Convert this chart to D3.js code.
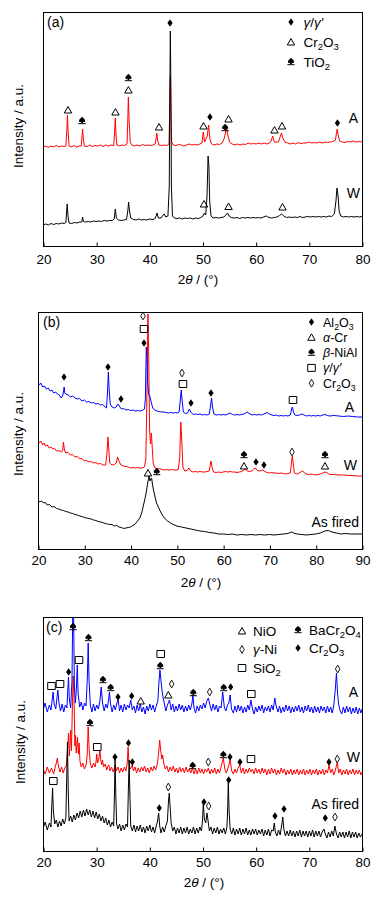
<!DOCTYPE html>
<html><head><meta charset="utf-8">
<script src="https://cdn.jsdelivr.net/npm/d3@7"></script>
<style>
body{margin:0;background:#fff}
svg{display:block}
text{font-family:"Liberation Sans",Arial,sans-serif;fill:#000}
</style>
</head><body>
<svg id="chart" width="386" height="898"></svg>
<script>
// ---------------- DATA ----------------
const ticksA = [20,30,40,50,60,70,80];
const ticksB = [20,30,40,50,60,70,80,90];
const ticksC = [20,30,40,50,60,70,80];

// panel (a) : 2theta, intensity (a.u.)
const aRedA = [[20,99],[20.5,100],[21,98.5],[21.5,100],[22,99],[22.5,100.5],[23,99],[23.5,100],[24,99.5],[24.3,100],[24.5,118],[24.6,131],[24.75,112],[24.9,100],[25.3,99],[25.8,100.5],[26.3,99],[26.8,100],[27.2,100],[27.35,110],[27.45,117],[27.6,106],[27.8,100],[28.3,99.5],[28.8,101],[29.3,99.5],[29.8,100.5],[30.3,100],[30.8,101],[31.3,99.5],[31.8,101],[32.3,100],[32.8,101],[33.3,100.5],[33.45,112],[33.6,128],[33.75,110],[33.9,101],[34.4,100],[34.9,101],[35.4,100.5],[35.8,102],[35.95,125],[36.05,149],[36.2,126],[36.4,104],[36.7,101],[37.2,100],[37.7,101],[38.2,100],[38.7,101.5],[39.2,100.5],[39.7,101],[40.2,100.5],[40.7,101],[41.1,102],[41.3,108],[41.4,113],[41.55,106],[41.8,101],[42.3,100.5],[42.8,101],[43.3,100.5],[43.7,102],[43.85,140],[43.95,170],[44.05,140],[44.2,104],[44.5,101],[45,100.5],[45.5,101.5],[46,101],[46.5,100],[47,101],[47.5,102],[48,101],[48.5,101.5],[49,101],[49.5,102],[49.9,103],[50.15,114],[50.4,104],[50.9,110],[51.15,121],[51.4,107],[51.7,102],[52.2,101],[52.7,102],[53.2,101.5],[53.7,103],[54.1,108],[54.4,115],[54.55,117],[54.8,110],[55.1,104],[55.6,102],[56.1,101],[56.6,102],[57.1,101],[57.6,102],[58.1,101.5],[58.6,103],[59.1,102],[59.6,102.5],[60.1,102],[60.6,103],[61.1,102],[61.6,103],[62.1,102],[62.6,103],[62.9,105],[63.2,110],[63.5,104],[64.3,104],[64.6,109],[64.85,113],[65.1,108],[65.5,104],[66,103],[66.5,102],[67,103],[67.5,102],[68,103.5],[68.5,102.5],[69,103],[69.5,103],[70,104],[70.5,103],[71,103.5],[71.5,103],[72,104],[72.5,103],[73,104],[73.5,103.5],[74,104],[74.5,104.5],[75,106],[75.2,113],[75.35,117],[75.55,110],[75.8,105],[76.3,104],[76.8,103.5],[77.3,104.5],[77.8,104],[78.3,105],[78.8,104],[79.3,104.5],[79.8,104],[80,104.5]];
const aBlackW = [[20,21],[20.5,22],[21,21],[21.5,22.5],[22,21.5],[22.5,22.5],[23,22],[23.5,23],[24,22.5],[24.3,23.5],[24.45,35],[24.55,42],[24.7,30],[24.9,23],[25.4,22.5],[25.9,23.5],[26.4,23],[26.9,24],[27.3,24],[27.45,29],[27.6,24.5],[28,24],[28.5,24.5],[29,24],[29.5,25],[30,24.5],[30.5,25],[31,24.5],[31.5,25.5],[32,25],[32.5,25.5],[33,25.5],[33.4,27],[33.6,37],[33.8,28],[34.2,26],[34.7,25.5],[35.2,26],[35.7,26.5],[35.95,35],[36.1,44],[36.25,36],[36.5,28],[37,26.5],[37.5,26],[38,27],[38.5,26],[39,26.5],[39.5,26],[40,27],[40.5,26.5],[41,27],[41.3,30],[41.45,33],[41.7,28],[42.2,28],[42.6,31],[42.8,32],[43.1,29],[43.5,30],[43.75,60],[43.85,150],[43.95,215],[44.05,160],[44.15,60],[44.35,30],[44.7,28],[45.2,27.5],[45.7,28],[46.2,27],[46.7,28],[47.2,27.5],[47.7,28],[48.2,27],[48.7,28],[49.2,27.5],[49.7,28.5],[50.1,30],[50.35,33],[50.6,31],[50.85,50],[51.05,90],[51.2,80],[51.35,45],[51.6,30],[52,28],[52.5,28.5],[53,28],[53.5,28.5],[54,29],[54.4,31],[54.7,33],[55,30],[55.4,28.5],[56,28],[56.5,28.5],[57,27.5],[57.5,28.5],[58,28],[58.5,28.5],[59,28],[59.5,28.5],[60,28],[60.5,28.5],[61,28],[61.5,29],[62,30],[62.5,28.5],[63,28],[63.5,28.5],[64,29],[64.5,30.5],[64.9,32],[65.3,30],[65.8,28.5],[66.3,29],[66.8,28.5],[67.3,29],[67.8,28.5],[68.3,29.5],[68.8,28.5],[69.3,29],[69.8,29.5],[70.3,29],[70.8,29.5],[71.3,29],[71.8,29.5],[72.3,29],[72.8,29.5],[73.3,29],[73.8,30],[74.3,29.5],[74.8,32],[75.1,45],[75.3,58],[75.5,50],[75.7,35],[76,30],[76.5,29],[77,29.5],[77.5,29],[78,29.5],[78.5,29],[79,29.5],[79.5,29],[80,29.5]];

// panel (b)
const bBlueA = [[20,167],[20.3,164],[20.6,166],[21,162],[21.4,163],[21.8,160],[22.2,161],[22.6,158],[23,159],[23.4,156],[23.8,157],[24.2,155],[24.6,154],[25,151],[25.3,153],[25.5,157],[25.65,162],[25.8,156],[26,155],[26.5,154],[27,152],[27.5,153],[28,151],[28.5,150],[29,150.5],[29.5,148],[30,149],[30.5,147],[31,147.5],[31.5,146],[32,146.5],[32.5,145],[33,145.5],[33.5,144],[34,144.5],[34.5,142],[34.8,141],[35,155],[35.2,177],[35.4,158],[35.6,145],[36,142],[36.5,141],[36.9,142],[37.3,145],[37.7,142],[38,140],[38.5,140.5],[39,139],[39.5,139.5],[40,138.5],[40.5,139],[41,138],[41.5,138.5],[42,138],[42.5,138.5],[43,140],[43.2,150],[43.4,202],[43.55,190],[43.7,165],[43.9,155],[44.2,152],[44.5,146],[44.8,141],[45.2,139],[45.7,138],[46.2,137.5],[46.7,137],[47.2,137],[47.7,136.5],[48.2,136],[48.7,136.5],[49.2,136],[49.7,136.5],[50.2,136],[50.5,137],[50.8,152],[50.95,159],[51.15,148],[51.4,137],[51.8,135.5],[52.3,136],[52.7,140],[53,137],[53.5,134.5],[54,135],[54.5,134.5],[55,135],[55.5,134],[56,134.5],[56.5,134],[57,135],[57.3,144],[57.5,151],[57.7,142],[58,135],[58.5,134],[59,134.5],[59.5,134],[60,134.5],[60.5,134],[61,135],[61.5,136],[62,134.5],[62.5,134],[63,134.5],[63.5,134],[64,134.5],[64.5,135],[65.2,137],[65.8,135],[66.3,134],[66.8,134.5],[67.3,134],[67.8,134.5],[68.3,134],[68.8,135],[69.5,136.5],[70,135],[70.5,134],[71,133.5],[71.5,134],[72,133],[72.5,133.5],[73,133],[73.5,133.5],[74,133],[74.5,134],[74.8,140],[74.95,142],[75.2,137],[75.5,134],[76,133.5],[76.5,134],[77,135],[77.5,134],[78,133],[78.5,133.5],[79,133],[79.5,133.5],[80,133],[80.5,133.5],[81,133],[81.5,134],[82,134.5],[82.5,133.5],[83,133],[84,133.5],[85,133],[86,132.5],[87,133],[88,132.5],[89,132],[90,132]];
const bRedW = [[20,109],[20.3,106],[20.6,108],[21,104],[21.3,106],[21.6,103],[22,104],[22.4,101],[22.8,102],[23.2,100],[23.6,100.5],[24,98],[24.5,98.5],[25,97],[25.3,98],[25.5,107],[25.7,99],[26,96],[26.5,96.5],[27,94],[27.5,94.5],[28,92],[28.5,92.5],[29,90],[29.5,90.5],[30,88],[30.5,88.5],[31,87],[31.5,87.5],[32,86],[32.5,86.5],[33,85],[33.5,85.5],[34,84],[34.6,84],[34.9,95],[35.1,112],[35.3,100],[35.5,86],[36,84],[36.5,84.5],[36.9,86],[37.2,92],[37.5,88],[37.9,84],[38.5,83],[39,82.5],[39.5,82],[40,81],[40.5,81.5],[41,81],[41.5,81.5],[42,81],[42.5,81],[43,82],[43.3,90],[43.55,160],[43.75,235],[43.9,200],[44.1,120],[44.3,105],[44.5,116],[44.7,100],[44.9,85],[45.3,81],[45.8,80],[46.3,80.5],[46.8,79.5],[47.3,79],[47.8,79.5],[48.3,79],[48.8,79.5],[49.3,79],[49.8,79],[50.3,79.5],[50.6,90],[50.85,127],[51.05,110],[51.3,82],[51.7,78],[52.2,78.5],[52.6,81],[53,78],[53.5,77],[54,77.5],[54.5,77],[55,77.5],[55.5,77],[56,77],[56.5,77.5],[57,78],[57.25,85],[57.4,88],[57.6,82],[57.9,77],[58.5,76.5],[59,77],[59.5,76.5],[60,77],[60.5,77.5],[61,77],[61.5,77.5],[62,77],[62.5,77],[63,76.5],[63.5,77],[64,77.5],[64.5,79],[64.8,80],[65.2,78],[65.7,77.5],[66.2,78],[66.6,80],[66.9,81],[67.3,79],[67.8,78],[68.3,78.5],[68.6,79],[69,77.5],[69.5,76.5],[70,76],[70.5,76.5],[71,76],[71.5,76],[72,75.5],[72.5,76],[73,75.5],[73.5,75],[74,75.5],[74.5,76],[74.75,86],[74.95,93],[75.15,85],[75.4,76],[75.8,75],[76.3,75.5],[76.8,77],[77.2,78],[77.6,76],[78,75],[78.5,74.5],[79,75],[79.5,74.5],[80,74],[80.5,74.5],[81,75],[81.5,76],[82,77],[82.5,76],[83,74.5],[84,74.5],[85,74],[86,74],[87,73.5],[88,73.5],[89,73],[90,73]];
const bBlackAsFired = [[20,49],[20.4,47],[20.8,48],[21.2,46],[21.6,46.5],[22,44],[22.5,44.5],[23,42],[23.5,42.5],[24,40.5],[24.5,40],[25,39],[25.5,38.5],[26,37.5],[26.5,37],[27,36],[27.5,35.5],[28,34.5],[28.5,34],[29,33],[29.5,32.5],[30,31.5],[30.5,31],[31,30.5],[31.5,30],[32,29],[32.5,28.5],[33,27.5],[33.5,27],[34,26.5],[34.5,25.5],[35,25],[35.5,24.5],[36,24.5],[36.5,23],[37,23.5],[37.5,22],[38,21.5],[38.5,20.5],[39,21],[39.5,21.5],[40,22],[40.5,23.5],[41,25],[41.5,28],[42,31],[42.4,36],[42.8,44],[43.1,50],[43.4,57],[43.7,66],[44,73],[44.2,68],[44.35,70],[44.55,71],[44.75,64],[45,58],[45.3,52],[45.6,46],[46,42],[46.5,37],[47,33],[47.5,30],[48,28],[48.5,26.5],[49,25],[50,23],[51,22],[52,21],[53,20],[54,19],[55,18],[56,17.5],[57,16.5],[58,16],[59,15],[60,15],[61,14.5],[62,15],[63,14],[64,14.5],[65,14],[66,14.5],[67,14],[68,14.5],[69,14],[70,14.5],[71,14],[72,14.5],[73,15],[74,15.5],[74.8,17],[75.5,15.5],[76,15],[77,14.5],[78,14],[79,14.5],[80,15],[81,16],[82,18],[82.7,18.5],[83.5,17],[84.5,16],[85.5,15],[86.5,15.5],[87.5,15],[88.5,15],[90,15]];

// panel (c)
const cBlueA = [[20,140],[20.4,148],[20.8,139],[21.2,146],[21.5,141],[21.7,150],[21.9,159],[22.1,147],[22.4,142],[22.6,152],[22.8,161],[23,148],[23.3,140],[23.6,147],[23.9,139],[24.2,146],[24.5,143],[24.65,160],[24.8,174],[24.95,152],[25.2,143],[25.45,170],[25.6,240],[25.75,240],[25.9,165],[26.1,148],[26.3,165],[26.45,186],[26.6,158],[26.9,144],[27.2,149],[27.5,141],[27.8,148],[28.1,145],[28.35,175],[28.5,208],[28.65,172],[28.9,146],[29.2,139],[29.5,147],[29.8,140],[30.1,146],[30.4,142],[30.7,150],[30.95,164],[31.2,148],[31.5,140],[31.8,147],[32.1,143],[32.35,152],[32.5,159],[32.7,147],[33,139],[33.3,146],[33.6,141],[33.9,148],[34.15,151],[34.4,140],[34.7,146],[35,139],[35.3,147],[35.6,141],[35.9,146],[36.2,143],[36.5,151],[36.8,141],[37.1,145],[37.4,138],[37.7,146],[38,140],[38.3,147],[38.6,139],[38.9,144],[39.2,137],[39.5,145],[39.8,140],[40.1,147],[40.4,141],[40.7,146],[41,139],[41.3,145],[41.6,150],[41.8,168],[42,181],[42.2,170],[42.4,160],[42.6,153],[42.8,148],[43.1,140],[43.4,146],[43.8,151],[44.1,141],[44.4,147],[44.7,139],[45,145],[45.3,140],[45.6,147],[45.9,141],[46.2,146],[46.5,139],[46.8,145],[47.1,140],[47.4,146],[47.7,141],[48,147],[48.2,156],[48.4,143],[48.7,138],[49,145],[49.3,140],[49.6,146],[49.9,142],[50.2,148],[50.5,143],[50.8,150],[51.1,153],[51.4,146],[51.7,140],[52,147],[52.3,141],[52.6,146],[52.9,139],[53.2,145],[53.5,143],[53.8,159],[54.1,144],[54.4,140],[54.7,146],[54.95,148],[55.2,156],[55.45,142],[55.8,138],[56.1,145],[56.4,139],[56.7,146],[57,140],[57.3,145],[57.6,138],[57.9,144],[58.2,139],[58.5,146],[58.8,141],[59.1,151],[59.4,142],[59.7,137],[60,144],[60.3,139],[60.6,145],[60.9,140],[61.2,146],[61.5,138],[61.8,144],[62.1,140],[62.4,145],[62.7,139],[63,146],[63.3,141],[63.6,153],[63.9,144],[64.2,139],[64.5,145],[64.8,138],[65.1,144],[65.4,139],[65.7,146],[66,140],[66.3,145],[66.6,138],[66.9,144],[67.2,139],[67.5,145],[67.8,140],[68.1,146],[68.4,139],[68.7,144],[69,138],[69.3,145],[69.6,140],[69.9,146],[70.2,139],[70.5,144],[70.8,138],[71.1,145],[71.4,139],[71.7,144],[72,138],[72.3,145],[72.6,140],[72.9,144],[73.2,138],[73.5,145],[73.8,139],[74.1,144],[74.4,138],[74.7,146],[74.95,160],[75.2,178],[75.4,158],[75.6,147],[75.9,140],[76.2,137],[76.5,144],[76.8,138],[77.1,145],[77.4,139],[77.7,144],[78,137],[78.3,143],[78.6,138],[78.9,144],[79.2,137],[79.5,143],[79.8,138],[80,142]];
const cRedW = [[20,82],[20.4,77],[20.8,84],[21.2,78],[21.6,83],[22,77],[22.3,84],[22.5,88],[22.7,93],[22.9,85],[23.2,79],[23.5,84],[23.8,78],[24.1,83],[24.4,86],[24.6,100],[24.8,118],[24.95,95],[25.1,110],[25.2,121],[25.35,100],[25.55,150],[25.68,175],[25.85,150],[26,105],[26.1,116],[26.25,98],[26.4,108],[26.5,114],[26.65,97],[26.8,108],[26.95,90],[27.2,84],[27.5,88],[27.8,82],[28.1,86],[28.3,95],[28.5,124],[28.7,100],[28.9,87],[29.2,83],[29.5,88],[29.8,84],[30,90],[30.1,97],[30.25,88],[30.5,92],[30.7,101],[30.9,90],[31.05,86],[31.2,91],[31.4,84],[31.7,87],[32,81],[32.2,85],[32.4,86],[32.6,80],[32.9,84],[33.2,79],[33.45,83],[33.6,86],[33.8,80],[34.1,84],[34.4,78],[34.7,83],[35,79],[35.3,84],[35.6,80],[35.85,88],[36,104],[36.15,90],[36.4,82],[36.65,84],[36.8,86],[37,80],[37.3,84],[37.6,78],[37.9,83],[38.2,79],[38.5,84],[38.8,80],[39.1,85],[39.4,79],[39.7,83],[40,78],[40.3,84],[40.6,80],[40.9,85],[41.2,81],[41.5,87],[41.75,98],[41.95,111],[42.15,100],[42.35,92],[42.5,96],[42.7,88],[43,82],[43.3,85],[43.6,79],[43.9,84],[44.2,80],[44.5,85],[44.8,79],[45.1,83],[45.4,78],[45.7,84],[46,79],[46.3,83],[46.6,78],[46.9,84],[47.2,79],[47.5,82],[47.8,78],[48.1,83],[48.4,77],[48.7,82],[49,77],[49.3,83],[49.6,78],[49.9,82],[50.2,77],[50.5,82],[50.8,79],[51.1,83],[51.4,77],[51.7,82],[52,78],[52.3,83],[52.6,77],[52.9,82],[53.2,78],[53.5,84],[53.9,93],[54.2,82],[54.5,78],[54.8,83],[55.2,91],[55.5,80],[55.8,77],[56.1,82],[56.4,78],[56.7,83],[57,86],[57.3,78],[57.6,83],[57.9,77],[58.2,82],[58.5,78],[58.8,83],[59.1,79],[59.4,82],[59.7,77],[60,83],[60.3,78],[60.6,82],[60.9,77],[61.2,83],[61.5,78],[61.8,82],[62.1,76],[62.4,82],[62.7,77],[63,83],[63.3,78],[63.6,82],[63.9,76],[64.2,81],[64.5,77],[64.8,83],[65.1,78],[65.4,82],[65.7,76],[66,81],[66.3,77],[66.6,82],[66.9,76],[67.2,81],[67.5,77],[67.8,82],[68.1,76],[68.4,81],[68.7,77],[69,82],[69.3,76],[69.6,81],[69.9,77],[70.2,82],[70.5,76],[70.8,81],[71.1,77],[71.4,82],[71.7,76],[72,81],[72.3,77],[72.6,82],[72.9,76],[73.2,81],[73.5,78],[73.8,86],[74.1,78],[74.4,82],[74.7,76],[75,81],[75.35,89],[75.6,78],[75.9,82],[76.2,76],[76.5,81],[76.8,77],[77.1,82],[77.4,76],[77.7,81],[78,77],[78.3,82],[78.6,76],[78.9,81],[79.2,77],[79.5,81],[79.8,76],[80,79]];
const cBlackAsFired = [[20,22],[20.4,29],[20.8,21],[21.2,28],[21.5,24],[21.65,45],[21.8,63],[21.95,40],[22.2,27],[22.5,31],[22.8,24],[23.1,30],[23.4,25],[23.7,32],[24,27],[24.3,33],[24.45,70],[24.6,109],[24.75,60],[24.9,30],[25.2,35],[25.5,29],[25.8,36],[26.1,31],[26.4,38],[26.7,33],[27,40],[27.3,34],[27.6,41],[27.9,35],[28.2,42],[28.5,36],[28.8,41],[29.1,34],[29.4,40],[29.7,33],[30,39],[30.3,32],[30.6,37],[30.9,30],[31.2,35],[31.5,28],[31.8,33],[32.1,26],[32.4,31],[32.7,24],[33,29],[33.3,25],[33.45,60],[33.55,93],[33.7,55],[33.85,27],[34.1,22],[34.4,27],[34.7,20],[35,26],[35.3,21],[35.6,27],[35.9,24],[36.05,60],[36.2,91],[36.35,55],[36.5,25],[36.8,20],[37.1,26],[37.4,19],[37.7,25],[38,20],[38.3,26],[38.6,19],[38.9,24],[39.2,18],[39.5,25],[39.8,20],[40.1,26],[40.4,19],[40.7,24],[41,18],[41.3,25],[41.55,30],[41.75,38],[41.95,25],[42.2,18],[42.5,24],[42.8,19],[43.1,25],[43.4,30],[43.6,50],[43.75,58],[43.9,45],[44.1,28],[44.4,20],[44.7,24],[45,17],[45.3,23],[45.6,18],[45.9,24],[46.2,17],[46.5,23],[46.8,18],[47.1,24],[47.4,17],[47.7,22],[48,18],[48.3,24],[48.6,17],[48.9,23],[49.2,18],[49.5,24],[49.8,20],[50,30],[50.15,48],[50.35,32],[50.6,28],[50.85,38],[51.05,30],[51.3,20],[51.6,24],[51.9,17],[52.2,23],[52.5,18],[52.8,24],[53.1,17],[53.4,22],[53.7,18],[54,23],[54.3,17],[54.6,24],[54.75,45],[54.85,69],[55,40],[55.2,22],[55.5,17],[55.8,23],[56.1,16],[56.4,22],[56.7,17],[57,23],[57.3,16],[57.6,22],[57.9,17],[58.2,23],[58.5,16],[58.8,21],[59.1,16],[59.4,22],[59.7,17],[60,22],[60.3,16],[60.6,21],[60.9,17],[61.2,22],[61.5,15],[61.8,21],[62.1,16],[62.4,22],[62.7,15],[63,21],[63.3,20],[63.5,28],[63.7,19],[64,15],[64.3,21],[64.6,16],[64.9,26],[65.1,34],[65.3,22],[65.6,15],[65.9,20],[66.2,15],[66.5,21],[66.8,15],[67.1,20],[67.4,14],[67.7,20],[68,15],[68.3,21],[68.6,14],[68.9,20],[69.2,15],[69.5,20],[69.8,14],[70.1,20],[70.4,15],[70.7,21],[71,14],[71.3,20],[71.6,15],[71.9,20],[72.2,14],[72.5,19],[72.85,22],[73.1,17],[73.4,13],[73.7,19],[74,14],[74.3,20],[74.6,15],[74.9,25],[75.2,17],[75.5,13],[75.8,19],[76.1,14],[76.4,19],[76.7,13],[77,19],[77.3,14],[77.6,20],[77.9,13],[78.2,19],[78.5,14],[78.8,19],[79.1,13],[79.4,18],[79.7,14],[80,17]];

// phase markers: [2theta, intensity, symbol]
const aMarks = [[24.7,136,"tri"],[27.35,125,"spade"],[33.63,134,"tri"],[36.07,168,"spade"],[36.07,156,"tri"],[41.82,119,"tri"],[43.89,223,"dia"],[50.19,120,"tri"],[51.4,129,"dia"],[54.25,118,"spade"],[54.9,127,"tri"],[63.54,116,"tri"],[64.95,120,"tri"],[75.39,123,"dia"],
  [50.28,42,"tri"],[54.9,39.5,"tri"],[65.05,39,"tri"]];
const bMarks = [[25.62,172,"dia"],[35.12,182,"dia"],[37.93,150,"dia"],[42.9,206,"dia"],[42.9,220,"sq"],[42.68,233,"odia"],[51.11,176,"odia"],[51.32,165,"sq"],[53.05,146,"dia"],[57.37,156,"dia"],[75.09,149,"sq"],
  [64.5,94,"spade"],[64.5,83,"tri"],[67.1,87,"dia"],[68.82,84,"dia"],[74.87,97,"odia"],[82.0,94,"spade"],[82.0,83,"tri"],
  [43.76,76,"tri"],[45.65,77,"spade"]];
const cMarks = [[21.6,165,"sq"],[23.2,167,"sq"],[24.83,179,"dia"],[25.64,224,"spade"],[26.77,191,"sq"],[28.56,213,"spade"],[31.28,171,"spade"],[32.73,163,"spade"],[34.1,154,"dia"],[36.68,155,"dia"],[38.38,150,"tri"],[42.14,197,"sq"],[42.06,185,"spade"],[44.2,167,"odia"],[43.57,156,"tri"],[48.27,158,"spade"],[51.35,159,"odia"],[53.99,163,"spade"],[55.3,164,"dia"],[59.18,157,"sq"],[75.43,182,"odia"],
  [28.84,128,"spade"],[30.21,104,"sq"],[33.54,94,"dia"],[36.08,108,"dia"],[36.8,89,"dia"],[48.15,85,"spade"],[51.09,89,"odia"],[53.92,96,"spade"],[55.17,94,"dia"],[57.05,89,"dia"],[59.12,92,"sq"],[73.79,89,"dia"],[75.35,92,"odia"],
  [21.94,70,"sq"],[41.87,43,"dia"],[43.57,64,"odia"],[50.28,49,"dia"],[51.16,45,"odia"],[54.93,71,"dia"],[63.63,35,"dia"],[65.33,42,"dia"],[73.09,33,"dia"],[74.92,34,"odia"]];

const legendA = [["dia","*γ*/*γ′*"],["tri","Cr_2O_3"],["spade","TiO_2"]];
const legendB = [["dia","Al_2O_3"],["tri","*α*-Cr"],["spade","*β*-NiAl"],["sq","*γ*/*γ′*"],["odia","Cr_2O_3"]];
const legendC1 = [["tri","NiO"],["odia","*γ*-Ni"],["sq","SiO_2"]];
const legendC2 = [["spade","BaCr_2O_4"],["dia","Cr_2O_3"]];

// ---------------- DRAWING ----------------
const svg = d3.select("#chart");
const FS = 13.5;

function rich(t, spec, size){
  const parts=[]; let buf="", ital=false, i=0;
  while(i<spec.length){
    const ch=spec[i];
    if(ch==="*"){ if(buf){parts.push({s:buf,it:ital,sub:false}); buf="";} ital=!ital; i++; continue; }
    if(ch==="_"){ if(buf){parts.push({s:buf,it:ital,sub:false}); buf="";} parts.push({s:spec[i+1],it:ital,sub:true}); i+=2; continue; }
    buf+=ch; i++;
  }
  if(buf) parts.push({s:buf,it:ital,sub:false});
  let cur=0;
  parts.forEach(p=>{
    const target = p.sub ? size*0.26 : 0;
    const ts = t.append("tspan").text(p.s).attr("dy", target-cur);
    cur = target;
    if(p.sub) ts.attr("font-size", size*0.7);
    if(p.it) ts.attr("font-style","italic");
  });
}

function symbol(g, type){
  if(type==="dia") g.append("path").attr("d","M0,-3.7L2.6,0L0,3.7L-2.6,0Z").attr("fill","#000");
  else if(type==="odia") g.append("path").attr("d","M0,-3.9L2.3,0L0,3.9L-2.3,0Z").attr("fill","#fff").attr("stroke","#000").attr("stroke-width",0.9);
  else if(type==="tri") g.append("path").attr("d","M0,-3.5L3.7,3L-3.7,3Z").attr("fill","none").attr("stroke","#000").attr("stroke-width",1);
  else if(type==="sq") g.append("path").attr("d","M-3.8,-3.5H3.8V3.5H-3.8Z").attr("fill","none").attr("stroke","#000").attr("stroke-width",1);
  else if(type==="spade"){
    g.append("path").attr("d","M0,-4.2C1,-3 3.3,-1.8 3.1,0C2.9,1.4 1.4,1.4 0.6,0.6L1.1,1.9H-1.1L-0.6,0.6C-1.4,1.4 -2.9,1.4 -3.1,0C-3.3,-1.8 -1,-3 0,-4.2Z").attr("fill","#000");
    g.append("path").attr("d","M-3.6,2.7H3.6").attr("stroke","#000").attr("stroke-width",1);
  }
}

function panel(cfg){
  const x = d3.scaleLinear().domain(cfg.xDomain).range([cfg.left, cfg.right]);
  const y = d3.scaleLinear().domain([0, cfg.yMax]).range([cfg.bottom, cfg.top]);
  const id = "clip"+cfg.name;
  svg.append("clipPath").attr("id",id).append("rect")
    .attr("x",cfg.left).attr("y",cfg.top).attr("width",cfg.right-cfg.left).attr("height",cfg.bottom-cfg.top);
  const line = d3.line().x(d=>x(d[0])).y(d=>y(d[1]));
  const gl = svg.append("g").attr("clip-path",`url(#${id})`);
  cfg.series.forEach(s=>{
    gl.append("path").datum(s.data).attr("d",line).attr("fill","none")
      .attr("stroke",s.color).attr("stroke-width",1).attr("stroke-linejoin","round");
  });
  const gm = svg.append("g");
  cfg.marks.forEach(m=>{
    const g = gm.append("g").attr("transform",`translate(${x(m[0])},${y(m[1])})`);
    symbol(g, m[2]);
  });
  svg.append("rect").attr("x",cfg.left+0.5).attr("y",cfg.top+0.5)
    .attr("width",cfg.right-cfg.left).attr("height",cfg.bottom-cfg.top)
    .attr("fill","none").attr("stroke","#000").attr("stroke-width",1);
  const ax = svg.append("g").attr("transform",`translate(0.5,${cfg.bottom+0.5})`)
    .call(d3.axisBottom(x).tickValues(cfg.ticks).tickFormat(d3.format("d"))
      .tickSizeInner(-4).tickSizeOuter(0).tickPadding(cfg.pad));
  ax.select(".domain").remove();
  ax.selectAll("line").attr("stroke","#000");
  ax.selectAll("text").attr("font-size",FS).attr("font-family","'Liberation Sans',Arial,sans-serif").attr("fill","#000");
  const xt = svg.append("text").attr("x",cfg.xtX).attr("y",cfg.xtY).attr("text-anchor","middle").attr("font-size",13.5);
  rich(xt,"2*θ* / (°)",13.5);
  svg.append("text").attr("transform",`translate(${cfg.ytX},${cfg.ytY}) rotate(-90)`)
    .attr("text-anchor","middle").attr("font-size",13.5).text("Intensity / a.u.");
  svg.append("text").attr("x",cfg.labX).attr("y",cfg.labY).attr("font-size",14).text(cfg.label);
  cfg.curveLabels.forEach(c=>{
    svg.append("text").attr("x",c[1]).attr("y",c[2]).attr("text-anchor","end").attr("font-size",14).text(c[0]);
  });
  cfg.legends.forEach(L=>{
    L.items.forEach((it,i)=>{
      const sy = L.y + i*L.dy;
      symbol(svg.append("g").attr("transform",`translate(${L.x},${sy})`), it[0]);
      const t = svg.append("text").attr("x",L.x+L.tx).attr("y",sy+L.fs*0.36).attr("font-size",L.fs);
      rich(t, it[1], L.fs);
    });
  });
}

panel({name:"a", xDomain:[20,80], yMax:234, left:43, right:362, top:12, bottom:246, ticks:ticksA, pad:8,
  series:[{data:aRedA,color:"#ff0000"},{data:aBlackW,color:"#000000"}],
  marks:aMarks, xtX:198, xtY:284, ytX:23, ytY:126, label:"(a)", labX:47, labY:27,
  curveLabels:[["A",358,123],["W",360,198]],
  legends:[{items:legendA, x:291, y:22, dy:20, tx:12.5, fs:13.5}]});

panel({name:"b", xDomain:[20,90], yMax:237, left:38, right:362, top:312, bottom:549, ticks:ticksB, pad:6,
  series:[{data:bBlackAsFired,color:"#000000"},{data:bRedW,color:"#ff0000"},{data:bBlueA,color:"#0000ff"}],
  marks:bMarks, xtX:201, xtY:587, ytX:23, ytY:434, label:"(b)", labX:43, labY:327,
  curveLabels:[["A",354,412],["W",357,470],["As fired",359,527]],
  legends:[{items:legendB, x:311.5, y:322, dy:15.3, tx:11.5, fs:12.5}]});

panel({name:"c", xDomain:[20,80], yMax:234, left:43, right:362, top:617, bottom:851, ticks:ticksC, pad:6,
  series:[{data:cRedW,color:"#ff0000"},{data:cBlackAsFired,color:"#000000"},{data:cBlueA,color:"#0000ff"}],
  marks:cMarks, xtX:204, xtY:887, ytX:25, ytY:742, label:"(c)", labX:46, labY:632,
  curveLabels:[["A",358,697],["W",360,762],["As fired",359,809]],
  legends:[{items:legendC1, x:242, y:631, dy:18.5, tx:11, fs:13.5},{items:legendC2, x:298, y:630, dy:18, tx:11, fs:13.5}]});
</script>
</body></html>
